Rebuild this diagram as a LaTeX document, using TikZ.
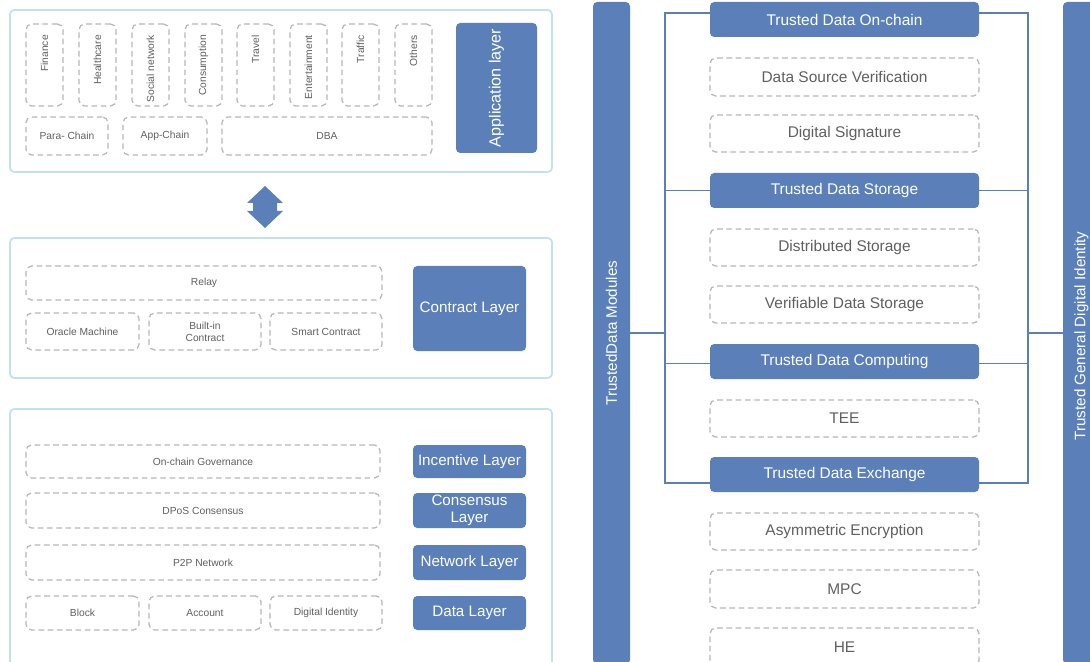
\documentclass[tikz,border=0pt]{standalone}
\usepackage{fontspec}
\setmainfont{Liberation Sans}
\usetikzlibrary{calc}
\definecolor{bblue}{HTML}{5B80B9}
\definecolor{pborder}{HTML}{C4DFEE}
\definecolor{dgray}{HTML}{B8B8B8}
\definecolor{tgray}{HTML}{606060}
\tikzset{
  panel/.style={draw=pborder, line width=1.2pt, rounded corners=3pt, fill=white, inner sep=0pt, outer sep=0pt},
  bluebox/.style={fill=bblue, draw=none, rounded corners=3pt, text=white, inner sep=0pt, outer sep=0pt, align=center},
  dashbox/.style={draw=dgray, dash pattern=on 4pt off 2.6pt, line width=0.9pt, rounded corners=4pt, text=tgray, inner sep=0pt, outer sep=0pt, align=center},
  conn/.style={draw=bblue, line width=1.4pt},
  fsmall/.style={font=\fontsize{7.3}{8.6}\selectfont},
  ftiny/.style={font=\fontsize{7.3}{8.5}\selectfont, text=tgray, inner sep=0pt},
  flayer/.style={font=\fontsize{10.8}{12}\selectfont},
  fright/.style={font=\fontsize{11}{13}\selectfont},
  fbar/.style={font=\fontsize{10.8}{12}\selectfont},
}
\newcommand\mybox[7]{\node[#1, minimum width={((#4)-(#2))*0.025cm}, minimum height={((#5)-(#3))*0.025cm}] (#6) at ({((#2)+(#4))/2},{((#3)+(#5))/2}) {#7};}
\newcommand\myrbox[7]{\node[#1, rotate=90, minimum width={((#5)-(#3))*0.025cm}, minimum height={((#4)-(#2))*0.025cm}] (#6) at ({((#2)+(#4))/2},{((#3)+(#5))/2}) {#7};}
\begin{document}
\begin{tikzpicture}[x=0.025cm, y=-0.025cm]
\clip (0,0) rectangle (1090,662);
\fill[white] (0,0) rectangle (1090,662);

% ---------- Left: application panel ----------
\mybox{panel}{10}{10}{552}{172}{p1}{}
\myrbox{bluebox,font=\fontsize{11.5}{13}\selectfont}{456}{23}{537}{153}{app}{Application layer}
\foreach \x/\n/\t in {26/fin/Finance, 79/hea/Healthcare, 132/soc/Social network, 185/con/Consumption, 237/tra/Travel, 290/ent/Entertainment, 342/trf/Traffic, 395/oth/Others}{
  \mybox{dashbox}{\x}{24}{\x+37}{106}{\n}{}
  \node[ftiny, rotate=90, anchor=east] (\n-t) at ($(\n.north)+(0,11)$) {\t};
}
\mybox{dashbox,fsmall}{26}{117}{108}{155}{para}{Para- Chain}
\mybox{dashbox,fsmall}{123}{117}{207}{155}{appc}{App-Chain}
\mybox{dashbox,fsmall}{222}{117}{432}{155}{dba}{DBA}

% double arrow
\fill[bblue] (265,186) -- (283,203) -- (277,203) -- (277,211) -- (283,211) -- (265,228)
  -- (247,211) -- (253,211) -- (253,203) -- (247,203) -- cycle;

% ---------- Left: contract panel ----------
\mybox{panel}{10}{238}{552}{378}{p2}{}
\mybox{bluebox,flayer}{413}{266}{526}{351}{contract}{Contract Layer}
\mybox{dashbox,fsmall}{26}{266}{382}{300}{relay}{Relay}
\mybox{dashbox,fsmall}{26}{313}{139}{350}{oracle}{Oracle Machine}
\mybox{dashbox,fsmall}{149}{313}{261}{350}{builtin}{Built-in\\Contract}
\mybox{dashbox,fsmall}{270}{313}{382}{350}{smart}{Smart Contract}

% ---------- Left: base panel ----------
\mybox{panel}{10}{409}{552}{690}{p3}{}
\mybox{bluebox,flayer}{413}{445}{526}{478}{incent}{Incentive Layer}
\mybox{dashbox,fsmall}{26}{445}{380}{478}{gov}{On-chain Governance}
\mybox{bluebox,flayer}{413}{493}{526}{528}{consensus}{Consensus\\Layer}
\mybox{dashbox,fsmall}{26}{493}{380}{528}{dpos}{DPoS Consensus}
\mybox{bluebox,flayer}{413}{545}{526}{580}{network}{Network Layer}
\mybox{dashbox,fsmall}{26}{545}{380}{580}{p2p}{P2P Network}
\mybox{bluebox,flayer}{413}{596}{526}{630}{datal}{Data Layer}
\mybox{dashbox,fsmall}{26}{596}{139}{630}{block}{Block}
\mybox{dashbox,fsmall}{149}{596}{261}{630}{account}{Account}
\mybox{dashbox,fsmall}{270}{596}{382}{630}{digid}{Digital Identity}

% ---------- Right side ----------
\myrbox{bluebox,fbar}{593}{2}{630}{664}{lbar}{TrustedData Modules}
\myrbox{bluebox,fbar}{1063}{2}{1100}{664}{rbar}{\hspace*{-0.15cm}Trusted General Digital Identity}

\coordinate (fnw) at (665,13);
\coordinate (fse) at (1028,483);
\coordinate (jl) at (665,333);
\coordinate (jr) at (1028,333);
\draw[conn] (fnw) rectangle (fse);

\mybox{bluebox,fright}{710}{2}{979}{37}{onchain}{Trusted Data On-chain}
\mybox{dashbox,fright}{710}{58}{979}{96}{dsv}{Data Source Verification}
\mybox{dashbox,fright}{710}{115}{979}{152}{dsig}{Digital Signature}
\mybox{bluebox,fright}{710}{173}{979}{208}{storage}{Trusted Data Storage}
\mybox{dashbox,fright}{710}{229}{979}{266}{dist}{Distributed Storage}
\mybox{dashbox,fright}{710}{286}{979}{323}{verif}{Verifiable Data Storage}
\mybox{bluebox,fright}{710}{344}{979}{379}{computing}{Trusted Data Computing}
\mybox{dashbox,fright}{710}{400}{979}{437}{tee}{TEE}
\mybox{bluebox,fright}{710}{457}{979}{492}{exchange}{Trusted Data Exchange}
\mybox{dashbox,fright}{710}{513}{979}{550}{asym}{Asymmetric Encryption}
\mybox{dashbox,fright}{710}{570}{979}{608}{mpc}{MPC}
\mybox{dashbox,fright}{710}{628}{979}{666}{he}{HE}

\draw[conn] (storage.west -| fnw) -- (storage.west);
\draw[conn] (storage.east) -- (storage.east -| fse);
\draw[conn] ($(computing.west -| fnw)+(0,2)$) -- ($(computing.west)+(0,2)$);
\draw[conn] ($(computing.east)+(0,2)$) -- ($(computing.east -| fse)+(0,2)$);
\draw[conn] (lbar.south |- jl) -- (jl);
\draw[conn] (jr) -- (rbar.north |- jr);
\end{tikzpicture}
\end{document}
